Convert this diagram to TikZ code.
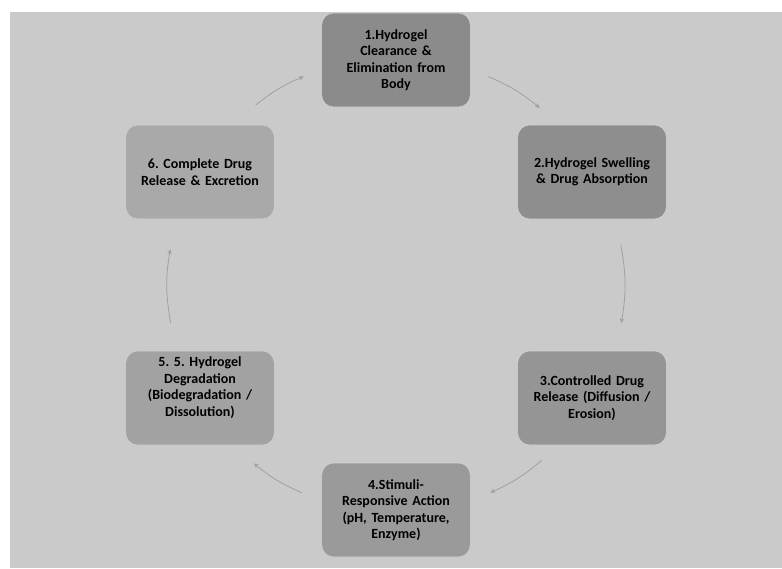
\documentclass[tikz,border=0pt]{standalone}
\usepackage{fontspec}
\setmainfont{Carlito}
\usetikzlibrary{arrows.meta}
\definecolor{bgc}{HTML}{CACACA}
\definecolor{c1}{HTML}{8B8B8B}
\definecolor{c2}{HTML}{8E8E8E}
\definecolor{c3}{HTML}{959595}
\definecolor{c4}{HTML}{9A9A9A}
\definecolor{c5}{HTML}{A2A2A2}
\definecolor{c6}{HTML}{A9A9A9}
\definecolor{arrc}{HTML}{A0A0A0}
\definecolor{edgec}{HTML}{D2D2D2}
\tikzset{
  stage/.style={rounded corners=12pt, minimum width=144pt, minimum height=94pt,
    text width=142pt, align=center, draw=edgec, line width=0.6pt,
    font=\fontsize{14pt}{16.5pt}\selectfont\bfseries\frenchspacing, text=black},
  arr/.style={draw=arrc, line width=0.8pt, -{Stealth[length=5pt,width=4.5pt]}},
  ring/.style={bend left=30}
}
\begin{document}
\begin{tikzpicture}[x=1pt,y=-1pt]
\useasboundingbox (0,0) rectangle (782,568);
\fill[white] (0,0) rectangle (782,568);
\fill[bgc] (10,12) rectangle (782,568);
\node[stage, fill=c1] (n1) at (396,60) {1.Hydrogel\\Clearance \&\\Elimination from\\Body};
\node[stage, fill=c2] (n2) at (592,172) {2.Hydrogel Swelling\\\& Drug Absorption};
\node[stage, fill=c3] (n3) at (592,398) {3.Controlled Drug\\Release (Diffusion /\\Erosion)};
\node[stage, fill=c4] (n4) at (396,510) {4.Stimuli-\\Responsive Action\\(pH, Temperature,\\Enzyme)};
\node[stage, fill=c5] (n5) at (200,398) {5. 5. Hydrogel\\Degradation\\(Biodegradation /\\Dissolution)\\[6pt]\mbox{}};
\node[stage, fill=c6] (n6) at (200,172) {6. Complete Drug\\Release \& Excretion};
% invisible ring through the node centres; each connector is the middle part of it
\path (n1.center) to[ring] coordinate[pos=0.39] (s12) coordinate[pos=0.66] (e12) (n2.center);
\path (n2.center) to[ring] coordinate[pos=0.32] (s23) coordinate[pos=0.67] (e23) (n3.center);
\path (n3.center) to[ring] coordinate[pos=0.33] (s34) coordinate[pos=0.60] (e34) (n4.center);
\path (n4.center) to[ring] coordinate[pos=0.40] (s45) coordinate[pos=0.65] (e45) (n5.center);
\path (n5.center) to[ring] coordinate[pos=0.33] (s56) coordinate[pos=0.66] (e56) (n6.center);
\path (n6.center) to[ring] coordinate[pos=0.36] (s61) coordinate[pos=0.61] (e61) (n1.center);
\draw[arr] (s12) to[bend left=8] (e12);
\draw[arr] (s23) to[bend left=10] (e23);
\draw[arr] (s34) to[bend left=8] (e34);
\draw[arr] (s45) to[bend left=8] (e45);
\draw[arr] (s56) to[bend left=10] (e56);
\draw[arr] (s61) to[bend left=8] (e61);
\end{tikzpicture}
\end{document}
